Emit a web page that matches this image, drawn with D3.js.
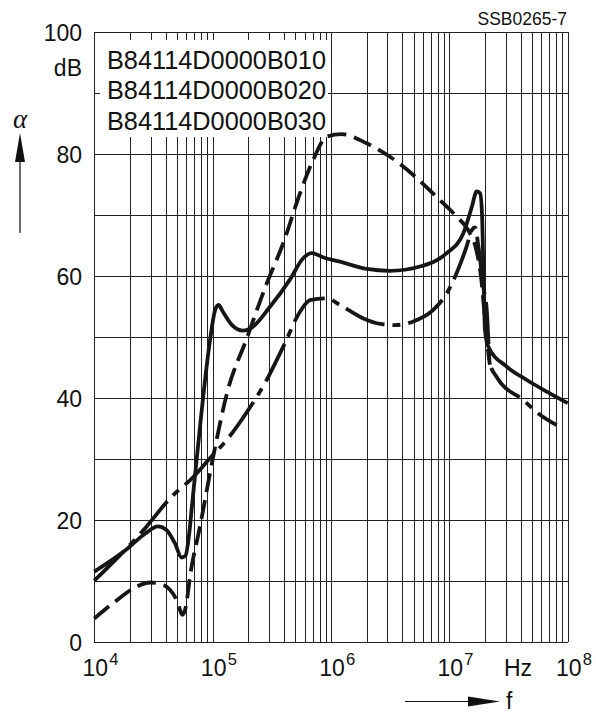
<!DOCTYPE html>
<html>
<head>
<meta charset="utf-8">
<script src="https://cdn.jsdelivr.net/npm/d3@7"></script>
<style>
    body { margin: 0; background: #fff; }
    svg { display: block; font-family: "Liberation Sans", Arial, Helvetica, sans-serif; }
</style>
</head>
<body>
<div id="chart"></div>
<script>
const width = 596;
const height = 713;

// Axis ticks
const yTicks = [0, 20, 40, 60, 80, 100];
const xDecades = [4, 5, 6, 7, 8];

// Legend text
const legendLines = ['B84114D0000B010', 'B84114D0000B020', 'B84114D0000B030'];

// Curves: [frequency in Hz, attenuation in dB]
const solidCurve = [
    [1.0e4, 11.6], [1.89e4, 15.3], [2.68e4, 17.8], [3.45e4, 19.0], [4.03e4, 18.5],
    [4.81e4, 16.2], [5.46e4, 13.9], [5.9e4, 14.2], [6.31e4, 17.5], [6.7e4, 22.5],
    [7.98e4, 37], [9.51e4, 49.6], [1.05e5, 54.5], [1.12e5, 55.3], [1.22e5, 54.2],
    [1.46e5, 52], [1.8e5, 51.1], [2.07e5, 51.4], [3.05e5, 55], [4.51e5, 59.5],
    [5.84e5, 63.0], [6.87e5, 63.8], [8.9e5, 63.0], [1.19e6, 62.4], [2.0e6, 61.2],
    [3.15e6, 60.9], [5.65e6, 61.6], [9.51e6, 63.8], [1.31e7, 67.0], [1.55e7, 71.4],
    [1.7e7, 73.9], [1.82e7, 73.6], [1.89e7, 70], [1.94e7, 61], [2.0e7, 51.2],
    [2.13e7, 48.5], [3.05e7, 45.2], [4.51e7, 43], [6.65e7, 41.1], [1.0e8, 39.2]
];

const dashedCurve = [
    [1.0e4, 3.9], [1.55e4, 6.9], [2.21e4, 9.0], [2.96e4, 9.8], [3.83e4, 9.4],
    [4.97e4, 6.9], [5.58e4, 4.5], [5.96e4, 6], [6.44e4, 10.8], [7.82e4, 19],
    [1.01e5, 30.4], [1.32e5, 40.8], [1.94e5, 49.8], [2.86e5, 58.8], [3.96e5, 65.5],
    [5.47e5, 73.6], [7.08e5, 79.1], [9.2e5, 82.9], [1.23e6, 83.3], [2.0e6, 81.8],
    [3.15e6, 79.6], [4.96e6, 76.6], [7.81e6, 73], [1.15e7, 69.8], [1.45e7, 67.5],
    [1.68e7, 64.5], [1.85e7, 60], [2.0e7, 53], [2.12e7, 48], [2.2e7, 45.5]
];

const dashDotCurve = [
    [1.0e4, 10.1], [2.77e4, 19], [4.36e4, 23.6], [6.87e4, 27.1], [9.51e4, 30.2],
    [1.32e5, 33.2], [1.88e5, 37.3], [2.86e5, 43], [3.96e5, 48.5], [5.47e5, 54.2],
    [6.65e5, 56.1], [9.2e5, 56.4], [1.19e6, 55.3], [1.88e6, 53.1], [2.6e6, 52.2],
    [3.47e6, 52.0], [4.96e6, 52.6], [7.31e6, 54.5], [9.51e6, 57.2], [1.15e7, 60.5],
    [1.4e7, 64.9], [1.55e7, 67.6], [1.65e7, 68], [1.76e7, 64.9], [1.94e7, 58.3],
    [2.07e7, 54.5], [2.2e7, 45.7], [2.51e7, 43.5], [4.22e7, 39.7], [5.83e7, 37.3],
    [8.07e7, 35.6]
];

const object = {
    drawChart: function (selector) {
        const left = 94.3;
        const right = 567.7;
        const top = 32.3;
        const bottom = 642.3;

        // Add chart svg
        const chart = d3.select(selector)
            .append('svg')
            .attr('width', width)
            .attr('height', height);

        // Scales
        const x = d3.scaleLog()
            .domain([1e4, 1e8])
            .range([left, right]);

        const y = d3.scaleLinear()
            .domain([0, 100])
            .range([bottom, top]);

        // Grid lines
        const grid = chart.append('g')
            .attr('class', 'grid')
            .attr('stroke', '#222')
            .attr('stroke-width', 1)
            .attr('shape-rendering', 'crispEdges');

        const vTicks = [];
        for (let e = 4; e < 8; e++) {
            for (let k = 1; k <= 10; k++) {
                vTicks.push(k * Math.pow(10, e));
            }
        }

        grid.selectAll('line.v')
            .data(vTicks)
            .join('line')
            .attr('class', 'v')
            .attr('x1', d => Math.round(x(d)) + 0.5)
            .attr('x2', d => Math.round(x(d)) + 0.5)
            .attr('y1', y(100))
            .attr('y2', y(0));

        grid.selectAll('line.h')
            .data(d3.range(0, 101, 10))
            .join('line')
            .attr('class', 'h')
            .attr('x1', x(1e4))
            .attr('x2', x(1e8))
            .attr('y1', d => Math.round(y(d)) + 0.5)
            .attr('y2', d => Math.round(y(d)) + 0.5);

        // Legend background hides the grid
        chart.append('rect')
            .attr('x', 100)
            .attr('y', 40)
            .attr('width', 228)
            .attr('height', 97)
            .attr('fill', '#fff');

        // Legend text
        chart.append('g')
            .attr('class', 'legend')
            .selectAll('text')
            .data(legendLines)
            .join('text')
            .attr('x', 107)
            .attr('y', (d, i) => 68.5 + i * 30.5)
            .attr('font-size', 25.3)
            .attr('fill', '#111')
            .text(d => d);

        // Curves
        const line = d3.line()
            .x(d => x(d[0]))
            .y(d => y(d[1]))
            .curve(d3.curveMonotoneX);

        const curves = [
            { data: dashDotCurve, dash: '42,8,8,8' },
            { data: dashedCurve, dash: '19,8' },
            { data: solidCurve, dash: null }
        ];

        chart.append('g')
            .attr('class', 'curves')
            .selectAll('path')
            .data(curves)
            .join('path')
            .attr('d', d => line(d.data))
            .attr('fill', 'none')
            .attr('stroke', '#161616')
            .attr('stroke-width', 3.8)
            .attr('stroke-linejoin', 'round')
            .attr('stroke-dasharray', d => d.dash);

        // Y tick labels
        chart.append('g')
            .attr('class', 'y-labels')
            .selectAll('text')
            .data(yTicks)
            .join('text')
            .attr('x', 82)
            .attr('y', d => y(d) + 8.5)
            .attr('text-anchor', 'end')
            .attr('font-size', 23)
            .attr('fill', '#111')
            .text(d => d);

        chart.append('text')
            .attr('x', 82)
            .attr('y', 76)
            .attr('text-anchor', 'end')
            .attr('font-size', 23)
            .attr('fill', '#111')
            .text('dB');

        // X tick labels
        const xLabels = chart.append('g')
            .attr('class', 'x-labels')
            .attr('fill', '#111');

        xLabels.selectAll('text.base')
            .data(xDecades)
            .join('text')
            .attr('class', 'base')
            .attr('x', d => x(Math.pow(10, d)) + 1)
            .attr('y', 675.5)
            .attr('text-anchor', 'middle')
            .attr('font-size', 23)
            .text('10');

        xLabels.selectAll('text.exp')
            .data(xDecades)
            .join('text')
            .attr('class', 'exp')
            .attr('x', d => x(Math.pow(10, d)) + 15)
            .attr('y', 665)
            .attr('font-size', 16.5)
            .text(d => d);

        chart.append('text')
            .attr('x', 504)
            .attr('y', 675.5)
            .attr('font-size', 23)
            .attr('fill', '#111')
            .text('Hz');

        // Axis arrows
        chart.append('line')
            .attr('x1', 405)
            .attr('x2', 470)
            .attr('y1', 701.5)
            .attr('y2', 701.5)
            .attr('stroke', '#111')
            .attr('stroke-width', 1.2);

        chart.append('path')
            .attr('d', 'M468,696.5 L500,701.5 L468,706.5 Z')
            .attr('fill', '#111');

        chart.append('text')
            .attr('x', 506)
            .attr('y', 709)
            .attr('font-size', 23)
            .attr('fill', '#111')
            .text('f');

        chart.append('line')
            .attr('x1', 20)
            .attr('x2', 20)
            .attr('y1', 233)
            .attr('y2', 160)
            .attr('stroke', '#111')
            .attr('stroke-width', 1.2);

        chart.append('path')
            .attr('d', 'M15,162 L20,133 L25,162 Z')
            .attr('fill', '#111');

        chart.append('text')
            .attr('x', 20)
            .attr('y', 128)
            .attr('text-anchor', 'middle')
            .attr('font-family', '"Liberation Serif", "DejaVu Serif", serif')
            .attr('font-style', 'italic')
            .attr('font-size', 27)
            .attr('fill', '#111')
            .text('α');

        // Figure code
        chart.append('text')
            .attr('x', 567)
            .attr('y', 25)
            .attr('text-anchor', 'end')
            .attr('font-size', 17.5)
            .attr('fill', '#111')
            .text('SSB0265-7');
    }
};

object.drawChart('#chart');
</script>
</body>
</html>
